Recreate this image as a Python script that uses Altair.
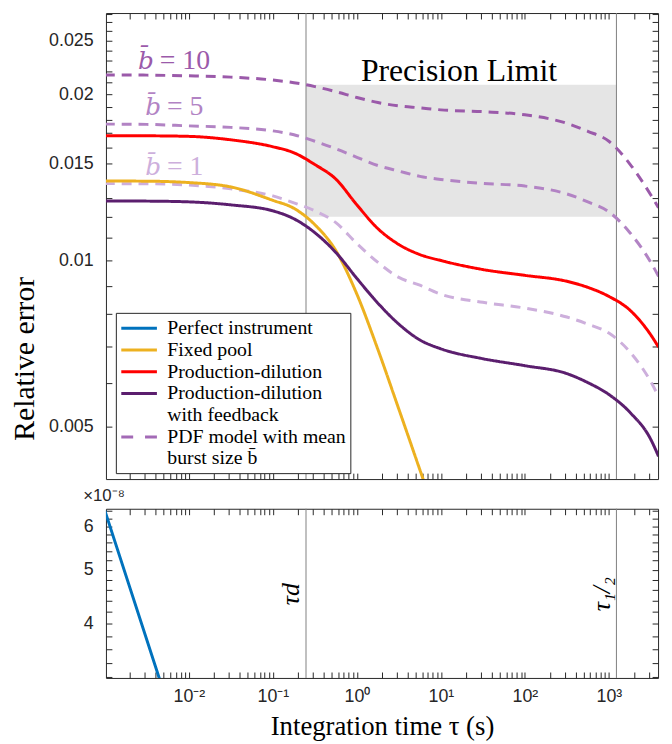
import altair as alt
import pandas as pd

# ---------------- data ----------------
TAU = [0.001, 0.00316, 0.01, 0.0316, 0.1, 0.178, 0.316, 0.562, 1.0, 1.78, 3.16,
       5.62, 10.0, 31.6, 100.0, 316.0, 562.0, 1000.0, 1780.0, 3160.0, 3900.0]

FIXED_POOL = [0.01393, 0.01392, 0.01384, 0.01359, 0.01285, 0.01243, 0.01161,
              0.01042, 0.00869, 0.00690, 0.00538, 0.00418, 0.00324]
PROD_DIL = [0.01683, 0.01682, 0.01678, 0.01654, 0.01607, 0.01567, 0.01492, 0.01404,
            0.01261, 0.01142, 0.01069, 0.01025, 0.01000, 0.00963, 0.00940, 0.00917,
            0.00894, 0.00861, 0.00813, 0.00733, 0.00697]
PROD_DIL_FB = [0.01282, 0.01281, 0.01277, 0.01261, 0.01230, 0.01190, 0.01123, 0.01034,
               0.00928, 0.00837, 0.00767, 0.00718, 0.00692, 0.00664, 0.00645, 0.00624,
               0.00601, 0.00572, 0.00531, 0.00474, 0.00442]
PDF_B1 = [0.01378, 0.01377, 0.01370, 0.01348, 0.01309, 0.01272, 0.01230, 0.01171,
          0.01073, 0.00992, 0.00932, 0.00902, 0.00869, 0.00840, 0.00820, 0.00790,
          0.00767, 0.00739, 0.00683, 0.00603, 0.00567]
PDF_B5 = [0.01766, 0.01764, 0.01753, 0.01742, 0.01717, 0.01689, 0.01644, 0.01594,
          0.01538, 0.01486, 0.01452, 0.01420, 0.01402, 0.01379, 0.01364, 0.01320,
          0.01277, 0.01225, 0.01123, 0.00992, 0.00936]
PDF_B10 = [0.02168, 0.02166, 0.02160, 0.02148, 0.02122, 0.02099, 0.02065, 0.02022,
           0.01973, 0.01932, 0.01905, 0.01890, 0.01874, 0.01860, 0.01836, 0.01772,
           0.01714, 0.01644, 0.01495, 0.01314, 0.01246]

PERFECT_TAU = [0.001, 0.00443, 0.01]
PERFECT_ERR_E8 = [6.40, 3.19, 2.18]          # in units of 1e-8

TAU_D = 0.248
TAU_HALF = 1230.0
PREC_LIMIT = [0.0120, 0.0208]

X_DOMAIN = [0.00103, 3850.0]
Y_TOP_DOMAIN = [0.00402, 0.02806]
Y_BOT_DOMAIN = [3.19, 6.45]

LEGEND_NAMES = ["Perfect instrument", "Fixed pool", "Production-dilution",
                "Production-dilution with feedback", "PDF model with mean burst size b\u0304"]
LEGEND_COLORS = ["#0072BD", "#EDB120", "#FF0000", "#5B1E6E", "#A36AB6"]
LEGEND_DASH = [[1, 0], [1, 0], [1, 0], [1, 0], [12, 12]]

B_VALUES = ["=  10", "=  5", "=  1"]
B_COLORS = ["#9B5AAA", "#B283C4", "#CDAFDC"]
B_LABEL_TAU = [0.00248, 0.00303, 0.00303]
B_LABEL_ERR = [0.02225, 0.01832, 0.01428]

X_TICKS = [float(f"{k}e{e}") for e in range(-3, 4) for k in range(1, 10)
           if X_DOMAIN[0] <= float(f"{k}e{e}") <= X_DOMAIN[1]]
Y_TOP_TICKS = [float(f"{k}e-3") for k in range(5, 29)]
Y_BOT_TICKS = [round(k * 0.2, 1) for k in range(16, 33)]

# ---------------- styling ----------------
AX = "#262626"
SANS = "Liberation Sans"
SERIF = "Liberation Serif"
TICK_IN = {"expr": "-6"}   # ticks drawn inward

X_MAJ = "abs(log(datum.value)/LN10 - round(log(datum.value)/LN10)) < 0.001"
Y_TOP_MAJ = "abs(datum.value*200 - round(datum.value*200)) < 0.001"
Y_BOT_MAJ = "abs(datum.value - round(datum.value)) < 0.001"
SUP = "['\u2070','\u00b9','\u00b2','\u00b3','\u2074','\u2075','\u2076','\u2077','\u2078','\u2079']"
EXP = "round(log(datum.value)/LN10)"
X_LABEL = (f"({X_MAJ}) ? '10' + ({EXP} < 0 ? '\u207b' : '') + {SUP}[abs({EXP})] : ''")
Y_TOP_LABEL = f"({Y_TOP_MAJ}) ? format(datum.value, '~g') : ''"
Y_BOT_LABEL = f"({Y_BOT_MAJ}) ? format(datum.value, '~g') : ''"


def make_axis(orient, values, major=None, label_expr=None, **extra):
    args = dict(
        orient=orient, values=values, domain=False, grid=False, ticks=True,
        tickSize=TICK_IN, tickColor=AX, tickWidth=1,
        labels=label_expr is not None, title=None,
    )
    if label_expr is not None:
        args.update(labelExpr=label_expr, labelFont=SANS,
                    labelFontSize={"condition": {"test": major, "value": 18}, "value": 0},
                    labelColor=AX, labelOverlap=False, labelFlush=False)
    args.update(extra)
    return alt.Axis(**args)


xs = alt.Scale(type="log", domain=X_DOMAIN, nice=False)
ys_top = alt.Scale(type="log", domain=Y_TOP_DOMAIN, nice=False)
ys_bot = alt.Scale(type="log", domain=Y_BOT_DOMAIN, nice=False)

# ---------------- tables ----------------
solid_rows = []
for name, vals in [(LEGEND_NAMES[1], FIXED_POOL), (LEGEND_NAMES[2], PROD_DIL),
                   (LEGEND_NAMES[3], PROD_DIL_FB)]:
    for t, v in zip(TAU, vals):
        solid_rows.append({"tau": t, "err": v, "series": name})
solid_df = pd.DataFrame(solid_rows)

pdf_dfs = [pd.DataFrame({"tau": TAU, "err": vals}) for vals in (PDF_B10, PDF_B5, PDF_B1)]
blab_df = pd.DataFrame({"tau": B_LABEL_TAU, "err": B_LABEL_ERR, "val": B_VALUES, "col": B_COLORS,
                        "b": ["b\u0304"] * 3})
rect_df = pd.DataFrame({"x": [TAU_D], "x2": [TAU_HALF], "y": [PREC_LIMIT[0]], "y2": [PREC_LIMIT[1]]})
vline_df = pd.DataFrame({"tau": [TAU_D, TAU_HALF]})
prec_df = pd.DataFrame({"tau": [16.4], "err": [PREC_LIMIT[1]], "txt": ["Precision Limit"]})
perfect_df = pd.DataFrame({"tau": PERFECT_TAU, "err": PERFECT_ERR_E8})
tlab_df = pd.DataFrame({"tau": [TAU_D, TAU_HALF], "err": [4.52, 4.52], "txt": ["\u03c4d", "\u03c4\u2081/\u2082"]})

legend = alt.Legend(
    title=None, orient="none", legendX=10, legendY=303, direction="vertical",
    strokeColor=AX, fillColor="white", padding=4, cornerRadius=0,
    symbolType="M-1.8,0H1.8", symbolSize=400, symbolStrokeWidth=3,
    symbolOffset=8, labelOffset=17,
    labelFont=SERIF, labelFontSize=20, labelColor="black", labelLimit=400,
    rowPadding=0,
    labelExpr=("datum.label == 'Production-dilution with feedback' ? ['Production-dilution', 'with feedback'] : "
               "(indexof(datum.label, 'PDF') == 0 ? ['PDF model with mean', 'burst size b\u0304'] : datum.label)"),
)

# ---------------- top panel ----------------
rect = alt.Chart(rect_df).mark_rect(color="#e5e5e5").encode(
    x=alt.X("x:Q", scale=xs, axis=make_axis("bottom", X_TICKS)),
    x2="x2:Q",
    y=alt.Y("y:Q", scale=ys_top, axis=make_axis(
        "left", Y_TOP_TICKS, Y_TOP_MAJ, Y_TOP_LABEL, labelPadding=19,
        title="Relative error", titleFont=SERIF, titleFontSize=30, titleFontWeight="normal",
        titleColor="black", titleX=-73, titleY=349, titleBaseline="alphabetic", titleAngle=270)),
    y2="y2:Q",
)

vrules_top = alt.Chart(vline_df).mark_rule(color="#808080", strokeWidth=1).encode(
    x=alt.X("tau:Q", scale=xs, axis=None))

pdf_layers = [
    alt.Chart(d).mark_line(color=c, strokeWidth=3, strokeDash=[10, 7], clip=True,
                           interpolate="monotone").encode(
        x=alt.X("tau:Q", scale=xs, axis=None),
        y=alt.Y("err:Q", scale=ys_top, axis=None))
    for d, c in zip(pdf_dfs, B_COLORS)
]

solid = alt.Chart(solid_df).mark_line(strokeWidth=3, clip=True, interpolate="monotone").encode(
    x=alt.X("tau:Q", scale=xs, axis=make_axis("top", X_TICKS)),
    y=alt.Y("err:Q", scale=ys_top, axis=make_axis("right", Y_TOP_TICKS)),
    color=alt.Color("series:N", scale=alt.Scale(domain=LEGEND_NAMES, range=LEGEND_COLORS), legend=legend),
    strokeDash=alt.StrokeDash("series:N", scale=alt.Scale(domain=LEGEND_NAMES, range=LEGEND_DASH), legend=legend),
)


def blabel(field, **kw):
    return alt.Chart(blab_df).mark_text(align="left", baseline="alphabetic", **kw).encode(
        x=alt.X("tau:Q", scale=xs, axis=None),
        y=alt.Y("err:Q", scale=ys_top, axis=None),
        text=f"{field}:N",
        fill=alt.Fill("col:N", scale=None),
    )


b_letter = blabel("b", font="DejaVu Serif", fontSize=25, fontStyle="italic")
b_value = blabel("val", font=SERIF, fontSize=28, dx=22)

prec = alt.Chart(prec_df).mark_text(font=SERIF, fontSize=32, align="center", baseline="alphabetic",
                                    dy=-4, color="black").encode(
    x=alt.X("tau:Q", scale=xs, axis=None),
    y=alt.Y("err:Q", scale=ys_top, axis=None),
    text="txt:N",
)

top = alt.layer(rect, vrules_top, *pdf_layers, solid, b_letter, b_value, prec).properties(
    width=558, height=471)

# ---------------- bottom panel ----------------
perfect = alt.Chart(perfect_df).mark_line(color=LEGEND_COLORS[0], strokeWidth=3, clip=True).encode(
    x=alt.X("tau:Q", scale=xs, axis=make_axis(
        "bottom", X_TICKS, X_MAJ, X_LABEL, labelPadding=16,
        title="Integration time \u03c4 (s)", titleFont=SERIF, titleFontSize=27,
        titleFontWeight="normal", titleColor="black", titleY=57, titleBaseline="alphabetic")),
    y=alt.Y("err:Q", scale=ys_bot, axis=make_axis("left", Y_BOT_TICKS, Y_BOT_MAJ, Y_BOT_LABEL,
                                                  labelPadding=19)),
)

mirror_bot = alt.Chart(perfect_df).mark_point(opacity=0).encode(
    x=alt.X("tau:Q", scale=xs, axis=make_axis("top", X_TICKS)),
    y=alt.Y("err:Q", scale=ys_bot, axis=make_axis("right", Y_BOT_TICKS)),
)

vrules_bot = alt.Chart(vline_df).mark_rule(color="#808080", strokeWidth=1).encode(
    x=alt.X("tau:Q", scale=xs, axis=None))

tlabels = alt.Chart(tlab_df).mark_text(font=SERIF, fontSize=26, fontStyle="italic", angle=270,
                                       align="center", baseline="bottom", dy=-2, color="black").encode(
    x=alt.X("tau:Q", scale=xs, axis=None),
    y=alt.Y("err:Q", scale=ys_bot, axis=None),
    text="txt:N",
)

bottom = alt.layer(vrules_bot, perfect, mirror_bot, tlabels).properties(
    width=558, height=171,
    title=alt.TitleParams("\u00d710\u207b\u2078", anchor="start", font=SANS, fontSize=17,
                          fontWeight="normal", color=AX, offset=3),
)

chart = alt.vconcat(top, bottom, spacing=6).resolve_scale(
    color="independent", strokeDash="independent"
).properties(
    padding={"left": 1, "top": 0, "right": 5, "bottom": 0}
).configure(
    style={"guide-label": {"lineHeight": 21.7}}
).configure_view(stroke=AX, strokeWidth=1)

chart.save("out.html", embed_options={"renderer": "svg", "actions": False})
